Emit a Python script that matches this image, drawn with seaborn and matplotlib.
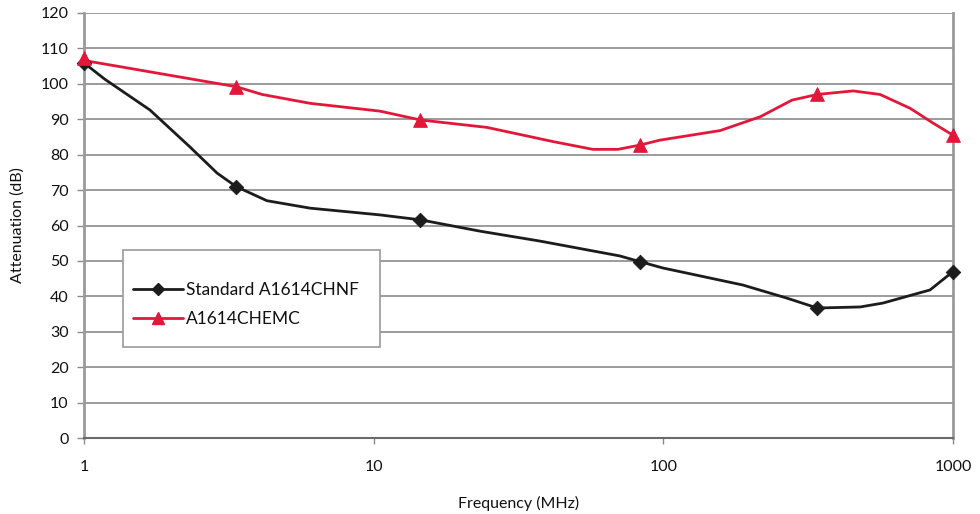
import matplotlib
matplotlib.use("Agg")
import matplotlib.pyplot as plt
from matplotlib.lines import Line2D
from matplotlib.patches import Rectangle
from matplotlib.ticker import FixedLocator, NullLocator
import seaborn as sns
import pandas as pd

# Curve points (frequency MHz, attenuation dB)
std_freq = [1.0, 1.18, 1.69, 2.32, 2.88, 3.35, 4.28, 6.03, 10.5, 14.5, 23.3, 37.5,
            70.8, 83.0, 99.7, 188, 267, 340, 478, 573, 833, 1000]
std_att = [105.9, 101.3, 92.6, 82.2, 74.8, 71.0, 67.0, 64.9, 63.0, 61.6, 58.4, 55.6,
           51.4, 49.8, 48.0, 43.2, 39.5, 36.7, 37.0, 38.1, 41.8, 47.0]

emc_freq = [1.0, 2.66, 3.35, 4.12, 6.03, 10.5, 14.5, 24.6, 41.6, 57.1, 69.7, 83.0,
            97.3, 157, 216, 278, 340, 452, 560, 711, 854, 1000]
emc_att = [106.6, 100.6, 99.2, 97.0, 94.5, 92.3, 89.8, 87.7, 83.7, 81.5, 81.5, 82.7,
           84.1, 86.8, 90.7, 95.4, 97.0, 98.0, 97.0, 93.1, 88.9, 85.5]

# Marked points
mark_freq = [1.0, 3.35, 14.5, 83.0, 340, 1000]
std_mark = [105.9, 71.0, 61.6, 49.8, 36.7, 47.0]
emc_mark = [107.2, 99.2, 89.8, 82.7, 97.0, 85.5]

series_names = ["Standard A1614CHNF", "A1614CHEMC"]
x_ticks = [1, 10, 100, 1000]
x_ticklabels = ["1", "10", "100", "1000"]
y_ticks = list(range(0, 121, 10))

BLACK = "#1c1c1c"
RED = "#e3173a"

sns.set_theme(style="white")
plt.rcParams["font.family"] = ["Lato", "DejaVu Sans"]

W, H = 980, 514
L, R, T, B = 84, 953, 13, 438
fig = plt.figure(figsize=(9.8, 5.14), dpi=100)
ax = fig.add_axes([L / W, (H - B) / H, (R - L) / W, (B - T) / H])

def ax_x(px):
    return (px - L) / (R - L)

def ax_y(py):
    return (B - py) / (B - T)

df_std = pd.DataFrame({"f": std_freq, "a": std_att})
df_emc = pd.DataFrame({"f": emc_freq, "a": emc_att})
sns.lineplot(data=df_std, x="f", y="a", ax=ax, color=BLACK, lw=2, sort=False, zorder=3)
sns.lineplot(data=df_emc, x="f", y="a", ax=ax, color=RED, lw=2, sort=False, zorder=3)

dm_std = pd.DataFrame({"f": mark_freq, "a": std_mark})
dm_emc = pd.DataFrame({"f": mark_freq, "a": emc_mark})
sns.scatterplot(data=dm_std, x="f", y="a", ax=ax, marker="D", s=55, color=BLACK,
                edgecolor=BLACK, zorder=4, clip_on=False)
sns.scatterplot(data=dm_emc, x="f", y="a", ax=ax, marker="^", s=95, color=RED,
                edgecolor=RED, zorder=4, clip_on=False)

ax.set_xscale("log")
ax.set_xlim(1, 1000)
ax.set_ylim(0, 120)
ax.xaxis.set_major_locator(FixedLocator(x_ticks))
ax.xaxis.set_minor_locator(NullLocator())
ax.set_xticklabels(x_ticklabels)
ax.set_yticks(y_ticks)

ax.grid(axis="y", color="#8a8a8a", lw=1.2)
ax.grid(axis="x", visible=False)
ax.set_axisbelow(True)

for s in ["left", "right"]:
    ax.spines[s].set_color("#9a9a9a")
    ax.spines[s].set_linewidth(2)
ax.spines["top"].set_visible(False)
ax.spines["bottom"].set_color("#6a6a6a")
ax.spines["bottom"].set_linewidth(1.5)

ax.tick_params(axis="y", which="major", left=True, length=5, width=1, color="#8a8a8a",
               labelsize=11.5, labelcolor="#111111", pad=6)
ax.tick_params(axis="x", which="major", bottom=True, length=4, width=1, color="#8a8a8a",
               labelsize=11.5, labelcolor="#111111", pad=12)

ax.set_xlabel("Frequency (MHz)", fontsize=11.5, color="#111111", va="center")
ax.xaxis.set_label_coords(0.5, ax_y(503))
ax.set_ylabel("Attenuation (dB)", fontsize=11.5, color="#111111", va="center")
ax.yaxis.set_label_coords(ax_x(18), ax_y(225))

# legend box
ax.add_patch(Rectangle((ax_x(123), ax_y(347)), ax_x(380) - ax_x(123), ax_y(250) - ax_y(347),
                       transform=ax.transAxes, facecolor="white", edgecolor="#9a9a9a",
                       lw=1.2, zorder=5, clip_on=False))

handles = [
    Line2D([0], [0], color=BLACK, lw=2, marker="D", markersize=6.5),
    Line2D([0], [0], color=RED, lw=2, marker="^", markersize=9),
]
leg = ax.legend(handles, series_names, loc="upper left",
                bbox_to_anchor=(ax_x(133), ax_y(282)),
                frameon=False, fontsize=12.5, handlelength=2.9, borderpad=0,
                labelspacing=0.75, handletextpad=0.15, borderaxespad=0)
leg.set_zorder(6)
for t in leg.get_texts():
    t.set_color("#111111")

fig.savefig("out.png", dpi=100)
